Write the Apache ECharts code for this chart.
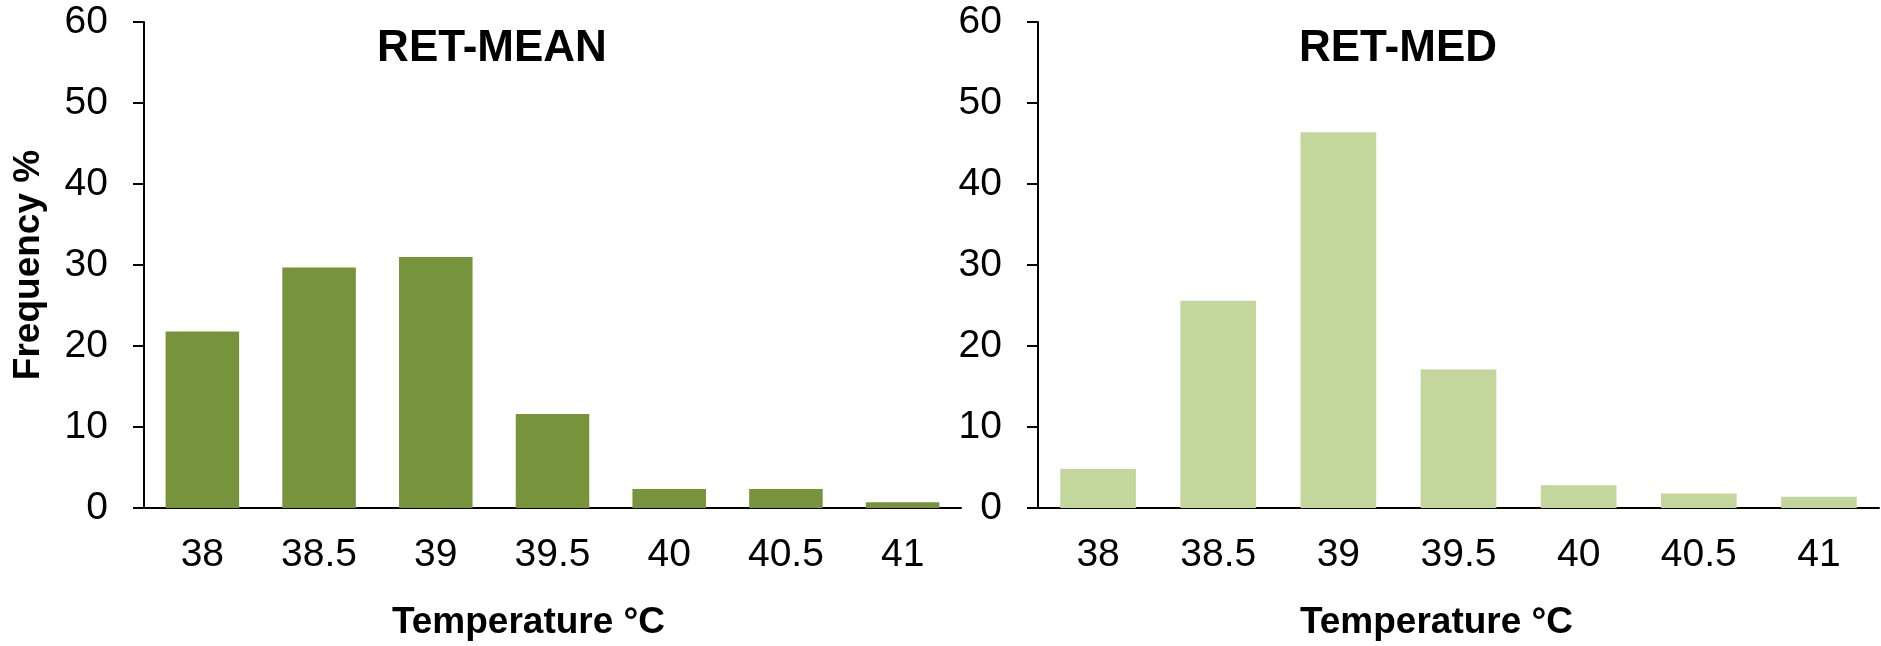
<!DOCTYPE html>
<html>
    <head>
        <meta charset='utf-8'>
        <script src="https://cdn.jsdelivr.net/npm/echarts@6/dist/echarts.min.js"></script>
    </head>
    <body>
        <style>
            html, body, #main {
                width: 100%;
                height: 100%;
                margin: 0;
                background: #fff;
            }
        </style>
        <div id='main'></div>
        <script>
            var temperatures = ['38', '38.5', '39', '39.5', '40', '40.5', '41'];
            var retMean = [21.8, 29.7, 31.0, 11.6, 2.35, 2.35, 0.7];
            var retMed = [4.8, 25.6, 46.4, 17.1, 2.8, 1.8, 1.4];
            var yTicks = { min: 0, max: 60, interval: 10 };

            var FONT = '"Liberation Sans", Arial, sans-serif';

            var chart = echarts.init(document.getElementById('main'));

            function xAxis(gridIndex, shift) {
                return {
                    type: 'category',
                    gridIndex: gridIndex,
                    data: temperatures,
                    name: 'Temperature °C',
                    nameLocation: 'middle',
                    nameGap: 96,
                    // title sits a little left of the plot centre in the original
                    nameTextStyle: {
                        fontFamily: FONT, fontSize: 37, fontWeight: 'bold', color: '#000',
                        padding: [0, shift, 0, 0]
                    },
                    axisLine: { lineStyle: { color: '#000', width: 2 } },
                    axisTick: { length: 11, lineStyle: { color: '#000', width: 2 } },
                    axisLabel: { margin: 28, fontFamily: FONT, fontSize: 39, color: '#000' }
                };
            }

            function yAxis(gridIndex, name) {
                return {
                    type: 'value',
                    gridIndex: gridIndex,
                    min: yTicks.min,
                    max: yTicks.max,
                    interval: yTicks.interval,
                    name: name,
                    nameLocation: 'middle',
                    nameGap: 97,
                    nameTextStyle: { fontFamily: FONT, fontSize: 37, fontWeight: 'bold', color: '#000' },
                    splitLine: { show: false },
                    axisLine: { show: true, lineStyle: { color: '#000', width: 2 } },
                    axisTick: { show: true, length: 11, lineStyle: { color: '#000', width: 2 } },
                    axisLabel: { margin: 36, fontFamily: FONT, fontSize: 39, color: '#000' }
                };
            }

            var option = {
                backgroundColor: '#fff',
                animation: false,
                title: [{
                    text: 'RET-MEAN',
                    left: 487,
                    top: 22,
                    textAlign: 'center',
                    textStyle: { fontFamily: FONT, fontSize: 44, fontWeight: 'bold', color: '#000' }
                }, {
                    text: 'RET-MED',
                    left: 1393,
                    top: 22,
                    textAlign: 'center',
                    textStyle: { fontFamily: FONT, fontSize: 44, fontWeight: 'bold', color: '#000' }
                }],
                grid: [
                    { left: 144, right: 920, top: 22, bottom: 137 },
                    { left: 1038, right: 2, top: 22, bottom: 137 }
                ],
                xAxis: [xAxis(0, 48), xAxis(1, 44)],
                yAxis: [yAxis(0, 'Frequency %'), yAxis(1, '')],
                series: [{
                    type: 'bar',
                    xAxisIndex: 0,
                    yAxisIndex: 0,
                    data: retMean,
                    barCategoryGap: '37%',
                    itemStyle: { color: '#77933C' }
                }, {
                    type: 'bar',
                    xAxisIndex: 1,
                    yAxisIndex: 1,
                    data: retMed,
                    barCategoryGap: '37%',
                    itemStyle: { color: '#C3D69B' }
                }]
            };

            chart.setOption(option);
        </script>
    </body>
</html>
